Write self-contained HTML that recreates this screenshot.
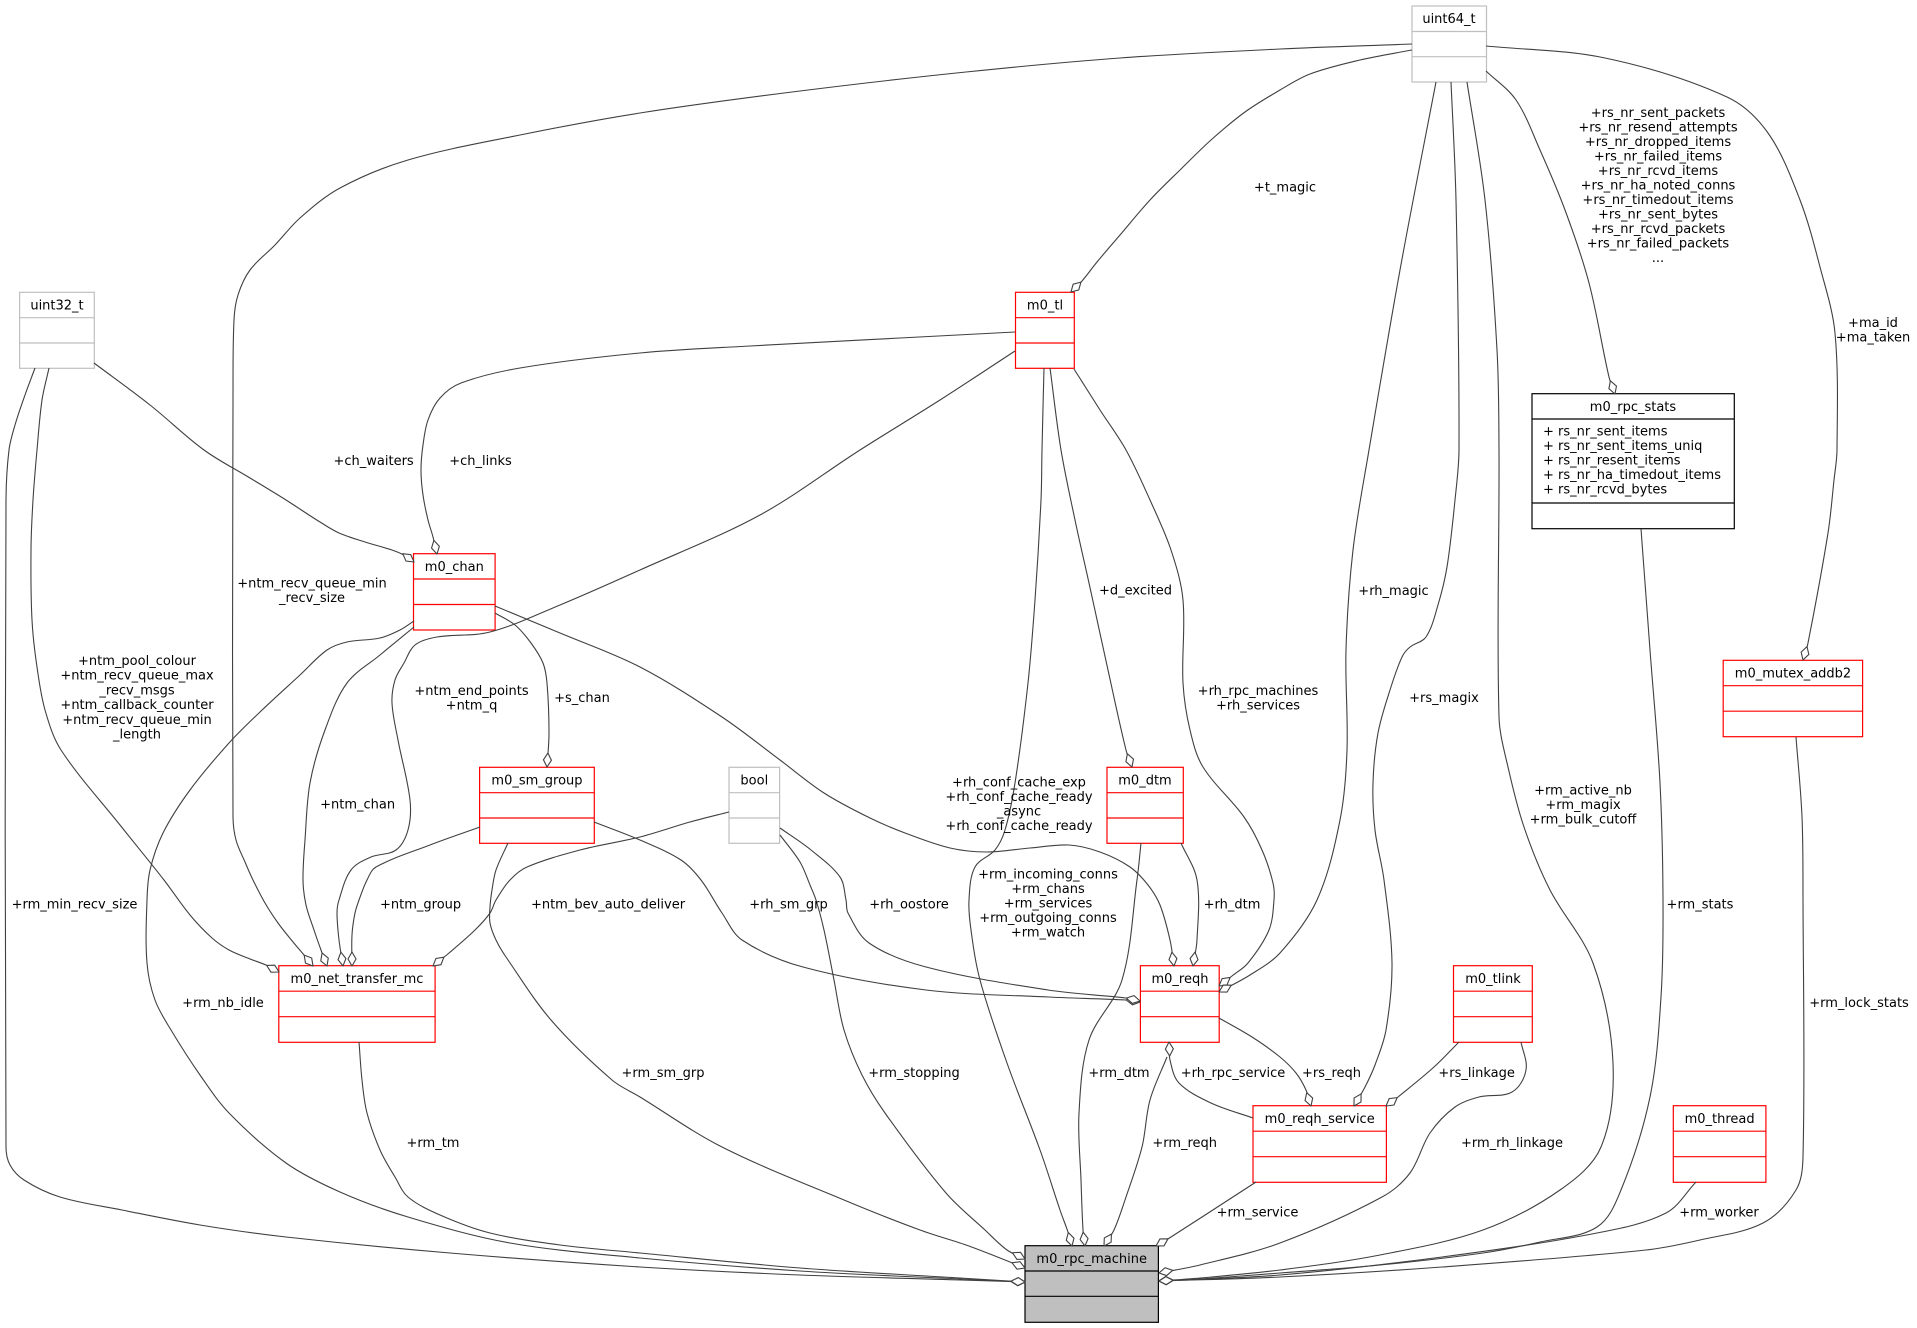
<!DOCTYPE html>
<html><head><meta charset="utf-8"><style>
html,body{margin:0;padding:0;background:#fff;}
svg{display:block;}
text{font-family:"DejaVu Sans","Liberation Sans",sans-serif;font-size:13px;fill:#000;}
.l{text-anchor:middle;}
.e{fill:none;stroke:#404040;stroke-width:1.1;stroke-linejoin:round;marker-end:url(#d);}
.r{fill:#fff;stroke:#ff0000;stroke-width:1.2;}
.g{fill:#fff;stroke:#bfbfbf;stroke-width:1.2;}
.k{fill:#fff;stroke:#000;stroke-width:1.2;}
</style></head><body>
<svg width="1917" height="1328" viewBox="0 0 1917 1328" xmlns="http://www.w3.org/2000/svg">
<defs>
<marker id="d" viewBox="0 0 15 10" refX="14.5" refY="5" markerWidth="15" markerHeight="10" orient="auto" markerUnits="userSpaceOnUse"><path d="M0.5,5 L7.5,1 L14.5,5 L7.5,9 Z" fill="#fff" stroke="#404040" stroke-width="1.1"/></marker>
</defs>

<!-- nodes -->
<g>
<rect class="g" x="1412" y="6" width="74.5" height="76"/><line x1="1412" y1="31.5" x2="1486.5" y2="31.5" stroke="#bfbfbf" stroke-width="1.2"/><line x1="1412" y1="56.7" x2="1486.5" y2="56.7" stroke="#bfbfbf" stroke-width="1.2"/>
<text class="l" x="1449" y="23">uint64_t</text>

<rect class="g" x="19.6" y="292.3" width="74.7" height="76"/><line x1="19.6" y1="317.7" x2="94.3" y2="317.7" stroke="#bfbfbf" stroke-width="1.2"/><line x1="19.6" y1="343" x2="94.3" y2="343" stroke="#bfbfbf" stroke-width="1.2"/>
<text class="l" x="57" y="309.5">uint32_t</text>

<rect class="r" x="1015.5" y="292.3" width="58.8" height="76"/><line x1="1015.5" y1="317.7" x2="1074.3" y2="317.7" stroke="red" stroke-width="1.2"/><line x1="1015.5" y1="343" x2="1074.3" y2="343" stroke="red" stroke-width="1.2"/>
<text class="l" x="1045" y="309.5">m0_tl</text>

<rect class="k" x="1532" y="393.7" width="202.3" height="135"/><line x1="1532" y1="419" x2="1734.3" y2="419" stroke="#000" stroke-width="1.2"/><line x1="1532" y1="503" x2="1734.3" y2="503" stroke="#000" stroke-width="1.2"/>
<text class="l" x="1633" y="411">m0_rpc_stats</text>
<text x="1543" y="435.5">+ rs_nr_sent_items</text>
<text x="1543" y="450">+ rs_nr_sent_items_uniq</text>
<text x="1543" y="464.5">+ rs_nr_resent_items</text>
<text x="1543" y="479">+ rs_nr_ha_timedout_items</text>
<text x="1543" y="493.5">+ rs_nr_rcvd_bytes</text>

<rect class="r" x="413.5" y="553.7" width="81.6" height="76.3"/><line x1="413.5" y1="579" x2="495.1" y2="579" stroke="red" stroke-width="1.2"/><line x1="413.5" y1="604.5" x2="495.1" y2="604.5" stroke="red" stroke-width="1.2"/>
<text class="l" x="454.3" y="571">m0_chan</text>

<rect class="r" x="479.6" y="767.3" width="114.7" height="76"/><line x1="479.6" y1="792.7" x2="594.3" y2="792.7" stroke="red" stroke-width="1.2"/><line x1="479.6" y1="818" x2="594.3" y2="818" stroke="red" stroke-width="1.2"/>
<text class="l" x="537" y="784.5">m0_sm_group</text>

<rect class="g" x="729" y="767.3" width="50.6" height="76"/><line x1="729" y1="792.7" x2="779.6" y2="792.7" stroke="#bfbfbf" stroke-width="1.2"/><line x1="729" y1="818" x2="779.6" y2="818" stroke="#bfbfbf" stroke-width="1.2"/>
<text class="l" x="754.3" y="784.5">bool</text>

<rect class="r" x="1107" y="767.3" width="76.3" height="76"/><line x1="1107" y1="792.7" x2="1183.3" y2="792.7" stroke="red" stroke-width="1.2"/><line x1="1107" y1="818" x2="1183.3" y2="818" stroke="red" stroke-width="1.2"/>
<text class="l" x="1145" y="784.5">m0_dtm</text>

<rect class="r" x="1723.2" y="660.3" width="139.4" height="76.4"/><line x1="1723.2" y1="685.7" x2="1862.6" y2="685.7" stroke="red" stroke-width="1.2"/><line x1="1723.2" y1="711.2" x2="1862.6" y2="711.2" stroke="red" stroke-width="1.2"/>
<text class="l" x="1793" y="677.5">m0_mutex_addb2</text>

<rect class="r" x="278.8" y="965.7" width="156.3" height="76.6"/><line x1="278.8" y1="991.2" x2="435.1" y2="991.2" stroke="red" stroke-width="1.2"/><line x1="278.8" y1="1016.7" x2="435.1" y2="1016.7" stroke="red" stroke-width="1.2"/>
<text class="l" x="357" y="983">m0_net_transfer_mc</text>

<rect class="r" x="1140.4" y="965.7" width="78.8" height="76.6"/><line x1="1140.4" y1="991.2" x2="1219.2" y2="991.2" stroke="red" stroke-width="1.2"/><line x1="1140.4" y1="1016.7" x2="1219.2" y2="1016.7" stroke="red" stroke-width="1.2"/>
<text class="l" x="1180" y="983">m0_reqh</text>

<rect class="r" x="1453.5" y="965.7" width="78.8" height="76.6"/><line x1="1453.5" y1="991.2" x2="1532.3" y2="991.2" stroke="red" stroke-width="1.2"/><line x1="1453.5" y1="1016.7" x2="1532.3" y2="1016.7" stroke="red" stroke-width="1.2"/>
<text class="l" x="1493" y="983">m0_tlink</text>

<rect class="r" x="1253" y="1105.7" width="133.4" height="76.6"/><line x1="1253" y1="1131.2" x2="1386.4" y2="1131.2" stroke="red" stroke-width="1.2"/><line x1="1253" y1="1156.7" x2="1386.4" y2="1156.7" stroke="red" stroke-width="1.2"/>
<text class="l" x="1319.7" y="1123">m0_reqh_service</text>

<rect class="r" x="1673.3" y="1105.7" width="92.6" height="76.6"/><line x1="1673.3" y1="1131.2" x2="1765.9" y2="1131.2" stroke="red" stroke-width="1.2"/><line x1="1673.3" y1="1156.7" x2="1765.9" y2="1156.7" stroke="red" stroke-width="1.2"/>
<text class="l" x="1719.6" y="1123">m0_thread</text>

<rect x="1025" y="1245.7" width="133.4" height="76.6" fill="#bfbfbf" stroke="#000" stroke-width="1.2"/><line x1="1025" y1="1271" x2="1158.4" y2="1271" stroke="#000" stroke-width="1.2"/><line x1="1025" y1="1296.3" x2="1158.4" y2="1296.3" stroke="#000" stroke-width="1.2"/>
<text class="l" x="1091.7" y="1263">m0_rpc_machine</text>
</g>

<!-- edges -->
<g id="edges">
<polyline class="e" points="1412,50 1360,60 1310,74 1280,90 1245,112 1211,140 1180,170 1150,200 1120,235 1097,262 1082,281 1071,292"/>
<polyline class="e" points="1412,44 1280,49 1120,58 966,72 800,91 640,113 520,135 408,160 340,188 300,218 275,245 250,270 238,295 234,320 233,400 233,817 236,840 245,862 253,880 265,903 278,923 293,942 304,955 313,966"/>
<polyline class="e" points="94,363 150,405 204,450 250,478 286,500 320,522 339,533 365,542 392,550 406,556 414,562"/>
<polyline class="e" points="49,368 42,400 37,450 33,500 31,550 32,620 37,667 45,710 61,750 120,825 164,880 190,915 212,938 229,950 250,959 266,965 279,972"/>
<polyline class="e" points="35,368 25,395 15,425 9,450 6,500 6,1147 10,1165 24,1180 60,1197 122,1210 200,1225 286,1237 450,1253 640,1267 800,1275 960,1280 1025,1282"/>
<polyline class="e" points="414,621 400,630 380,638 347,642 327,650 300,675 260,712 229,743 190,790 163,833 150,870 147,900 147,963 155,1000 171,1030 200,1075 229,1113 286,1163 340,1192 408,1217 510,1243 640,1258 800,1271 960,1279 1025,1282"/>
<polyline class="e" points="359,1042 362,1080 367,1113 380,1150 395,1177 408,1197 440,1215 490,1233 560,1245 640,1253 800,1268 960,1278 1025,1282"/>
<polyline class="e" points="414,627 380,655 347,683 325,730 310,783 305,840 303,880 306,905 314,930 321,950 327,966"/>
<polyline class="e" points="1015,351 940,400 860,450 760,515 640,570 560,605 490,632 437,637 415,645 404,663 395,680 392,703 398,740 410,800 408,830 396,850 371,857 351,870 339,900 337,913 339,940 343,966"/>
<polyline class="e" points="480,827 430,845 376,867 367,880 359,900 355,913 352,935 352,966"/>
<polyline class="e" points="729,812 690,822 640,837 580,850 527,867 510,880 496,900 490,913 475,930 449,953 433,966"/>
<polyline class="e" points="508,843 496,870 492,890 490,907 490,923 496,940 506,957 551,1020 612,1080 640,1097 722,1147 844,1200 920,1230 966,1245 1000,1258 1025,1268"/>
<polyline class="e" points="780,835 800,862 810,885 816,900 824,930 834,980 844,1030 862,1075 885,1113 946,1193 985,1230 1007,1250 1025,1259"/>
<polyline class="e" points="594,822 640,840 681,860 701,880 722,913 742,940 803,967 926,990 1048,997 1126,1000 1140,1002"/>
<polyline class="e" points="780,828 811,850 840,877 846,900 848,913 869,943 926,967 1048,990 1126,998 1140,1001"/>
<polyline class="e" points="495,613 515,625 531,643 543,663 547,683 549,733 547,767"/>
<polyline class="e" points="495,606 560,633 640,667 722,717 780,760 824,793 870,818 905,833 950,848 987,852 1030,848 1069,845 1100,852 1130,867 1148,885 1160,905 1170,940 1174,966"/>
<polyline class="e" points="1015,332 900,338 750,346 640,353 520,368 461,383 440,398 428,420 423,445 421,470 423,495 428,520 433,537 437,554"/>
<polyline class="e" points="1044,368 1042,450 1041,500 1035,600 1028,683 1015,783 1005,830 995,850 975,867 969,900 971,930 980,980 1007,1063 1040,1150 1060,1210 1068,1232 1072,1246"/>
<polyline class="e" points="1050,368 1061,450 1075,520 1089,583 1108,670 1126,750 1132,767"/>
<polyline class="e" points="1074,369 1100,410 1126,450 1150,500 1171,550 1183,600 1183,683 1190,730 1203,767 1244,817 1262,850 1273,883 1274,900 1269,930 1248,963 1232,976 1219,986"/>
<polyline class="e" points="1436,82 1400,270 1369,450 1353,550 1346,650 1347,750 1340,820 1317,900 1280,953 1250,975 1219,992"/>
<polyline class="e" points="1451,82 1456,200 1459,450 1455,500 1447,567 1438,605 1426,637 1410,647 1402,657 1390,690 1378,733 1373,783 1375,830 1384,880 1392,963 1386,1030 1375,1065 1365,1087 1354,1106"/>
<polyline class="e" points="1467,82 1485,200 1497,350 1499,450 1499,717 1508,767 1524,827 1550,890 1593,963 1613,1063 1601,1147 1560,1190 1483,1230 1380,1255 1280,1270 1200,1278 1159,1281"/>
<polyline class="e" points="1486,71 1516,100 1540,150 1565,210 1589,283 1609,377 1615,394"/>
<polyline class="e" points="1486,46 1605,58 1727,97 1768,133 1800,200 1820,267 1835,333 1837,450 1834,480 1828,533 1808,643 1803,660"/>
<polyline class="e" points="1641,529 1650,650 1660,783 1663,900 1661,997 1650,1097 1621,1190 1597,1227 1540,1242 1483,1253 1380,1265 1280,1273 1200,1279 1159,1281"/>
<polyline class="e" points="1796,737 1802,817 1803,900 1803,1157 1796,1190 1763,1223 1700,1240 1646,1250 1442,1267 1280,1277 1159,1281"/>
<polyline class="e" points="1696,1182 1666,1213 1597,1233 1442,1257 1280,1275 1159,1281"/>
<polyline class="e" points="1521,1042 1526,1070 1512,1092 1479,1097 1455,1107 1430,1133 1410,1173 1382,1197 1280,1243 1200,1265 1159,1273"/>
<polyline class="e" points="1459,1042 1434,1067 1398,1097 1386,1106"/>
<polyline class="e" points="1256,1182 1171,1237 1156,1246"/>
<polyline class="e" points="1219,1018 1252,1037 1280,1057 1296,1073 1306,1090 1311,1106"/>
<polyline class="e" points="1253,1118 1211,1103 1179,1083 1170,1060 1169,1042"/>
<polyline class="e" points="1167,1057 1150,1100 1142,1147 1125,1200 1114,1230 1104,1246"/>
<polyline class="e" points="1181,843 1197,880 1197,940 1193,966"/>
<polyline class="e" points="1141,843 1137,880 1122,980 1089,1040 1079,1113 1081,1180 1083,1230 1085,1246"/>
</g>

<!-- labels -->
<g class="lab">
<text class="l" x="1285" y="191.5">+t_magic</text>
<text class="l" x="1658" y="117">+rs_nr_sent_packets</text>
<text class="l" x="1658" y="131.5">+rs_nr_resend_attempts</text>
<text class="l" x="1658" y="146">+rs_nr_dropped_items</text>
<text class="l" x="1658" y="160.5">+rs_nr_failed_items</text>
<text class="l" x="1658" y="175">+rs_nr_rcvd_items</text>
<text class="l" x="1658" y="189.5">+rs_nr_ha_noted_conns</text>
<text class="l" x="1658" y="204">+rs_nr_timedout_items</text>
<text class="l" x="1658" y="218.5">+rs_nr_sent_bytes</text>
<text class="l" x="1658" y="233">+rs_nr_rcvd_packets</text>
<text class="l" x="1658" y="247.5">+rs_nr_failed_packets</text>
<text class="l" x="1658" y="262">...</text>
<text class="l" x="1873" y="327">+ma_id</text>
<text class="l" x="1873" y="341.5">+ma_taken</text>
<text class="l" x="373.6" y="465">+ch_waiters</text>
<text class="l" x="480.5" y="465">+ch_links</text>
<text class="l" x="312" y="587.5">+ntm_recv_queue_min</text>
<text class="l" x="312" y="602">_recv_size</text>
<text class="l" x="1135.5" y="594.5">+d_excited</text>
<text class="l" x="1393.5" y="595">+rh_magic</text>
<text class="l" x="137" y="665">+ntm_pool_colour</text>
<text class="l" x="137" y="679.7">+ntm_recv_queue_max</text>
<text class="l" x="137" y="694.4">_recv_msgs</text>
<text class="l" x="137" y="709.1">+ntm_callback_counter</text>
<text class="l" x="137" y="723.8">+ntm_recv_queue_min</text>
<text class="l" x="137" y="738.5">_length</text>
<text class="l" x="471.5" y="695">+ntm_end_points</text>
<text class="l" x="471.5" y="709.5">+ntm_q</text>
<text class="l" x="582" y="702">+s_chan</text>
<text class="l" x="1258" y="695">+rh_rpc_machines</text>
<text class="l" x="1258" y="709.5">+rh_services</text>
<text class="l" x="1444" y="702">+rs_magix</text>
<text class="l" x="1019" y="786.5">+rh_conf_cache_exp</text>
<text class="l" x="1019" y="801">+rh_conf_cache_ready</text>
<text class="l" x="1019" y="815.5">_async</text>
<text class="l" x="1019" y="830">+rh_conf_cache_ready</text>
<text class="l" x="1583" y="794.5">+rm_active_nb</text>
<text class="l" x="1583" y="809">+rm_magix</text>
<text class="l" x="1583" y="823.5">+rm_bulk_cutoff</text>
<text class="l" x="357.6" y="808.5">+ntm_chan</text>
<text class="l" x="1048" y="878.5">+rm_incoming_conns</text>
<text class="l" x="1048" y="893">+rm_chans</text>
<text class="l" x="1048" y="907.5">+rm_services</text>
<text class="l" x="1048" y="922">+rm_outgoing_conns</text>
<text class="l" x="1048" y="936.5">+rm_watch</text>
<text class="l" x="74.5" y="908.5">+rm_min_recv_size</text>
<text class="l" x="420.6" y="908.5">+ntm_group</text>
<text class="l" x="608" y="908.5">+ntm_bev_auto_deliver</text>
<text class="l" x="788.5" y="908.5">+rh_sm_grp</text>
<text class="l" x="909" y="908.5">+rh_oostore</text>
<text class="l" x="1232" y="908.5">+rh_dtm</text>
<text class="l" x="1700" y="908.5">+rm_stats</text>
<text class="l" x="223" y="1007">+rm_nb_idle</text>
<text class="l" x="1859" y="1007">+rm_lock_stats</text>
<text class="l" x="663" y="1077">+rm_sm_grp</text>
<text class="l" x="914" y="1077">+rm_stopping</text>
<text class="l" x="1119" y="1077">+rm_dtm</text>
<text class="l" x="1233" y="1077">+rh_rpc_service</text>
<text class="l" x="1331.5" y="1077">+rs_reqh</text>
<text class="l" x="1476.6" y="1077">+rs_linkage</text>
<text class="l" x="433" y="1147">+rm_tm</text>
<text class="l" x="1184.7" y="1147">+rm_reqh</text>
<text class="l" x="1512" y="1147">+rm_rh_linkage</text>
<text class="l" x="1257.5" y="1216.5">+rm_service</text>
<text class="l" x="1719" y="1216.5">+rm_worker</text>
</g>
</svg>
<script>
(function(){
  function u(a,b){var dx=b[0]-a[0],dy=b[1]-a[1],l=Math.sqrt(dx*dx+dy*dy)||1;return [dx/l,dy/l];}
  var pls=document.querySelectorAll('polyline.e');
  for(var k=0;k<pls.length;k++){
    var pl=pls[k];
    var a=pl.getAttribute('points').trim().split(/\s+/).map(function(s){var t=s.split(',');return [+t[0],+t[1]];});
    var n=a.length;
    if(n<3)continue;
    var d='M'+a[0][0]+','+a[0][1];
    for(var i=0;i<n-1;i++){
      var p0=a[i>0?i-1:i],p1=a[i],p2=a[i+1],p3=a[i+2<n?i+2:i+1];
      var t1=u(p0,p2),t2=u(p1,p3);
      var dx=p2[0]-p1[0],dy=p2[1]-p1[1],L=Math.sqrt(dx*dx+dy*dy)/3;
      var c1x=p1[0]+t1[0]*L,c1y=p1[1]+t1[1]*L,c2x=p2[0]-t2[0]*L,c2y=p2[1]-t2[1]*L;
      d+=' C'+c1x.toFixed(1)+','+c1y.toFixed(1)+' '+c2x.toFixed(1)+','+c2y.toFixed(1)+' '+p2[0]+','+p2[1];
    }
    var p=document.createElementNS('http://www.w3.org/2000/svg','path');
    p.setAttribute('d',d);p.setAttribute('class','e');
    pl.parentNode.replaceChild(p,pl);
  }
})();
</script>
</body></html>
